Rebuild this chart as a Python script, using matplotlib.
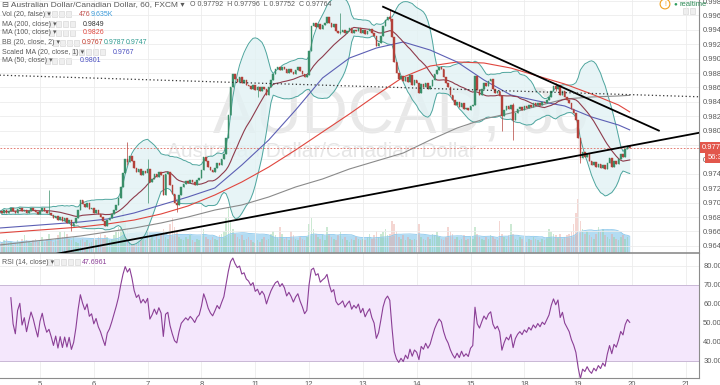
import numpy as np
import pandas as pd
import matplotlib
matplotlib.use("Agg")
import matplotlib.pyplot as plt
import matplotlib.transforms as mtransforms
from matplotlib.patches import Rectangle

plt.rcParams['font.family'] = ['Liberation Sans', 'DejaVu Sans']

# AUDCAD 60 min (FXCM) - hourly closes, one list per day
close_d4 = [0.9688, 0.9685, 0.9690, 0.9686, 0.9689, 0.9692, 0.9688, 0.9686, 0.9691,
            0.9693, 0.9688, 0.9690, 0.9686, 0.9689, 0.9692, 0.9690, 0.9687, 0.9684]
close_d5 = [0.9689, 0.9692, 0.9688, 0.9685, 0.9686, 0.9683, 0.9679, 0.9682, 0.9676,
            0.9680, 0.9674, 0.9678, 0.9672, 0.9676, 0.9668, 0.9671, 0.9678, 0.9690,
            0.9703, 0.9698, 0.9694, 0.9699, 0.9691, 0.9693]
close_d6 = [0.9686, 0.9690, 0.9684, 0.9680, 0.9674, 0.9668, 0.9676, 0.9679, 0.9684,
            0.9690, 0.9697, 0.9706, 0.9722, 0.9741, 0.9760, 0.9756, 0.9765, 0.9758,
            0.9748, 0.9742, 0.9746, 0.9739, 0.9744, 0.9741]
close_d7 = [0.9747, 0.9728, 0.9733, 0.9740, 0.9735, 0.9743, 0.9738, 0.9711, 0.9740,
            0.9743, 0.9725, 0.9712, 0.9700, 0.9696, 0.9710, 0.9722, 0.9726, 0.9730,
            0.9727, 0.9732, 0.9729, 0.9725, 0.9731, 0.9734]
close_d8 = [0.9745, 0.9764, 0.9758, 0.9750, 0.9745, 0.9742, 0.9748, 0.9755, 0.9752,
            0.9760, 0.9768, 0.9790, 0.9822, 0.9860, 0.9878, 0.9872, 0.9868, 0.9874,
            0.9866, 0.9870, 0.9864, 0.9862, 0.9858, 0.9864]
close_d11 = [0.9856, 0.9860, 0.9855, 0.9861, 0.9858, 0.9850, 0.9860, 0.9870, 0.9878,
             0.9885, 0.9888, 0.9884, 0.9889, 0.9886, 0.9880, 0.9885, 0.9882, 0.9878,
             0.9884, 0.9888, 0.9883, 0.9879, 0.9874, 0.9877]
close_d12 = [0.9910, 0.9945, 0.9950, 0.9944, 0.9948, 0.9941, 0.9946, 0.9950, 0.9958,
             0.9950, 0.9944, 0.9948, 0.9938, 0.9935, 0.9937, 0.9940, 0.9935, 0.9939,
             0.9942, 0.9936, 0.9940, 0.9938, 0.9942, 0.9936]
close_d13 = [0.9940, 0.9934, 0.9938, 0.9941, 0.9935, 0.9931, 0.9918, 0.9922, 0.9932,
             0.9945, 0.9954, 0.9958, 0.9955, 0.9930, 0.9895, 0.9880, 0.9872, 0.9876,
             0.9869, 0.9875, 0.9868, 0.9877, 0.9864, 0.9870]
close_d14 = [0.9866, 0.9852, 0.9865, 0.9860, 0.9866, 0.9858, 0.9862, 0.9870, 0.9878,
             0.9884, 0.9889, 0.9886, 0.9875, 0.9866, 0.9860, 0.9850, 0.9842, 0.9836,
             0.9840, 0.9833, 0.9838, 0.9830, 0.9832, 0.9828]
close_d15 = [0.9834, 0.9836, 0.9876, 0.9856, 0.9850, 0.9858, 0.9866, 0.9862, 0.9869,
             0.9872, 0.9858, 0.9852, 0.9855, 0.9848, 0.9820, 0.9828, 0.9834, 0.9830,
             0.9836, 0.9815, 0.9825, 0.9830, 0.9833, 0.9829]
close_d18 = [0.9834, 0.9831, 0.9836, 0.9833, 0.9838, 0.9835, 0.9839, 0.9836, 0.9840,
             0.9838, 0.9842, 0.9846, 0.9855, 0.9862, 0.9858, 0.9863, 0.9850, 0.9855,
             0.9846, 0.9842, 0.9838, 0.9830, 0.9824, 0.9815]
close_d19 = [0.9790, 0.9762, 0.9770, 0.9764, 0.9768, 0.9758, 0.9752, 0.9756, 0.9750,
             0.9754, 0.9748, 0.9752, 0.9746, 0.9755, 0.9762, 0.9750, 0.9758, 0.9754,
             0.9760, 0.9768, 0.9764, 0.9774, 0.97792, 0.97764]

# volume in thousands
vol_d4 = [7, 6, 8, 9, 6, 7, 5, 6, 8, 7, 9, 11, 8, 7, 6, 8, 9, 7]
vol_d5 = [8, 10, 7, 9, 12, 8, 7, 9, 11, 13, 10, 14, 12, 9, 8, 10, 7, 6, 8, 9, 7, 8, 6, 7]
vol_d6 = [9, 8, 10, 12, 9, 11, 10, 8, 9, 11, 13, 16, 22, 26, 20, 15, 12, 10, 9, 11, 8, 10, 9, 8]
vol_d7 = [14, 9, 10, 8, 11, 9, 12, 15, 10, 9, 18, 22, 16, 14, 10, 9, 8, 10, 9, 11, 8, 7, 9, 8]
vol_d8 = [12, 15, 10, 9, 8, 10, 9, 8, 11, 12, 14, 22, 28, 20, 15, 12, 10, 9, 11, 8, 9, 10, 8, 7]
vol_d11 = [6, 8, 7, 9, 10, 8, 9, 12, 14, 11, 10, 16, 12, 9, 10, 8, 14, 11, 9, 8, 10, 9, 8, 10]
vol_d12 = [18, 22, 15, 12, 10, 9, 11, 8, 16, 12, 10, 9, 8, 11, 13, 9, 10, 8, 7, 9, 8, 10, 9, 8]
vol_d13 = [9, 8, 10, 12, 9, 11, 14, 10, 12, 13, 15, 11, 12, 20, 18, 14, 10, 9, 11, 8, 10, 9, 8, 9]
vol_d14 = [8, 18, 10, 9, 8, 10, 9, 12, 11, 13, 10, 9, 8, 10, 16, 14, 12, 9, 10, 8, 9, 11, 8, 9]
vol_d15 = [10, 9, 16, 12, 10, 9, 8, 10, 9, 11, 10, 9, 8, 20, 12, 10, 9, 11, 18, 12, 9, 8, 10, 9]
vol_d18 = [8, 7, 9, 8, 10, 9, 8, 7, 9, 8, 10, 15, 13, 12, 11, 10, 12, 9, 10, 11, 12, 14, 18, 25]
vol_d19 = [34, 20, 15, 12, 14, 11, 10, 9, 12, 16, 13, 15, 11, 10, 9, 12, 10, 9, 8, 10, 11, 9, 10, 0.476]

# candles whose wick sticks out of the body
wick_bar = [22, 32, 57, 66, 79, 115, 152, 174, 224, 229, 248, 259, 281]
wick_high = [0.9718, 0.9676, 0.9784, 0.9760, 0.9702, 0.9862, 0.9963, 0.9967,
             0.9848, 0.9838, 0.9866, 0.9790, 0.97796]
wick_low = [0.9684, 0.9660, 0.9752, 0.9700, 0.9687, 0.9847, 0.9934, 0.9952,
            0.9800, 0.9787, 0.9855, 0.9755, 0.97752]

# long moving averages (need history before the window) read every 12 bars
ma_bar = [0, 12, 24, 36, 48, 60, 72, 84, 96, 108, 120, 132, 144, 156, 168,
          180, 192, 204, 216, 228, 240, 252, 264, 276, 281]
ma200 = [0.96411, 0.96453, 0.96494, 0.96536, 0.96592, 0.96647, 0.96717, 0.96800,
         0.96897, 0.96967, 0.97078, 0.97217, 0.97328, 0.97467, 0.97578, 0.97689,
         0.97869, 0.98036, 0.98161, 0.98244, 0.98342, 0.98439, 0.98467, 0.98481, 0.9849]
ma100 = [0.96578, 0.96606, 0.96633, 0.96661, 0.96703, 0.96758, 0.96842, 0.96953,
         0.97106, 0.97286, 0.97494, 0.97731, 0.97981, 0.98231, 0.98494, 0.98744,
         0.98897, 0.98953, 0.98939, 0.98869, 0.98758, 0.98647, 0.98508, 0.98356, 0.9826]
ma50 = [0.96647, 0.96675, 0.96703, 0.96731, 0.96772, 0.96856, 0.96967, 0.97078,
        0.97203, 0.97522, 0.97869, 0.98286, 0.98731, 0.99008, 0.99147, 0.99231,
        0.99119, 0.98953, 0.98703, 0.98494, 0.98411, 0.98342, 0.98189, 0.98078, 0.9801]

# drawn trend lines (bar, price)
trend_up = ([0, 312], [0.9614, 0.9797])
trend_down = ([171, 294], [0.9972, 0.9800])
trend_dot = ([0, 312], [0.9877, 0.9847])

day_labels = ['5', '6', '7', '8', '11', '12', '13', '14', '15', '18', '19', '20', '21']
day_pos = [18 + 24 * k for k in range(len(day_labels))]
price_ticks = np.round(np.arange(0.964, 0.9981, 0.002), 3)
rsi_ticks = [30, 40, 50, 60, 70, 80]

close = np.array(close_d4 + close_d5 + close_d6 + close_d7 + close_d8 + close_d11 +
                 close_d12 + close_d13 + close_d14 + close_d15 + close_d18 + close_d19)
vol = np.array(vol_d4 + vol_d5 + vol_d6 + vol_d7 + vol_d8 + vol_d11 +
               vol_d12 + vol_d13 + vol_d14 + vol_d15 + vol_d18 + vol_d19)
n = len(close)
idx = np.arange(n)
openp = np.r_[close[0], close[:-1]]
hi = np.maximum(openp, close)
lo = np.minimum(openp, close)
hi[wick_bar] = wick_high
lo[wick_bar] = wick_low

s = pd.Series(close)
ma20 = s.rolling(20, min_periods=1).mean()
sd = s.rolling(20, min_periods=1).std(ddof=0)
bb_up = ma20 + 2 * sd
bb_lo = ma20 - 2 * sd
d = s.diff()
ag = d.clip(lower=0).ewm(alpha=1 / 14, min_periods=5).mean()
al = (-d).clip(lower=0).ewm(alpha=1 / 14, min_periods=5).mean()
rsi = 100 - 100 / (1 + ag / al)
vol_ma = pd.Series(vol).rolling(20, min_periods=1).mean()

W, H = 720, 385
fig = plt.figure(figsize=(7.2, 3.85), dpi=100)
ax = fig.add_axes([0, 1 - 253 / H, 699 / W, 253 / H])
ax_rsi = fig.add_axes([0, 1 - 378 / H, 699 / W, 125 / H])
ax_vol = ax.twinx()
ax.set_zorder(2)
ax.patch.set_visible(False)
ax_vol.set_zorder(1)

grid_c = '#ececec'
axis_c = '#8c8c8c'
lab_c = '#5a5a5a'

# volume
up = close >= openp
vcol = np.where(up, '#8fcf9f', '#e7a49c')
ax_vol.fill_between(idx, 0, vol_ma, color='#b3dcf3', lw=0)
ax_vol.plot(idx, vol_ma, color='#8cc8ec', lw=0.6)
ax_vol.bar(idx, vol, width=0.7, color=vcol, alpha=0.45, lw=0)
ax_vol.set_ylim(0, 158)
ax_vol.axis('off')

# watermark
ax.text(213 / 699, 1 - 134 / 253, 'AUDCAD, 60', transform=ax.transAxes, fontsize=46,
        color='#e8e8e8', ha='left', va='baseline', zorder=0)
ax.text(167 / 699, 1 - 157 / 253, 'Australian Dollar/Canadian Dollar', transform=ax.transAxes,
        fontsize=15, color='#e6e6e6', ha='left', va='baseline', zorder=0)

# bollinger + moving averages
ax.fill_between(idx, bb_lo, bb_up, color='#e2f2f4', alpha=0.8, lw=0, zorder=1)
ax.plot(idx, bb_up, color='#4ea59e', lw=0.7, zorder=2)
ax.plot(idx, bb_lo, color='#4ea59e', lw=0.7, zorder=2)
ax.plot(ma_bar, ma200, color='#8a8a8a', lw=0.8, zorder=2)
ax.plot(ma_bar, ma100, color='#e0463e', lw=0.8, zorder=2)
ax.plot(ma_bar, ma50, color='#5c5fb4', lw=0.8, zorder=2)
ax.plot(idx, ma20, color='#8e3b4c', lw=0.8, zorder=2)

# candles
ccol = np.where(up, '#3b8f6a', '#b3413a')
ax.vlines(idx, lo, hi, colors=ccol, lw=0.5, zorder=3)
ax.bar(idx, close - openp, bottom=openp, width=0.7, color=ccol, edgecolor=ccol, lw=0.3, zorder=3)

# drawings
ax.plot(*trend_up, color='black', lw=1.3, zorder=4)
ax.plot(*trend_down, color='black', lw=1.3, zorder=4)
ax.plot(*trend_dot, color='#333333', lw=0.9, ls=(0, (1, 2)), zorder=4)
ax.axhline(close[-1], color='#e0685d', lw=0.6, ls=(0, (2, 2)), zorder=2)

ax.set_xlim(0.16, 311.9)
ax.set_ylim(0.9630, 0.99814)
ax.set_xticks(day_pos)
ax.set_yticks(price_ticks)
ax.set_yticklabels(['%.5f' % t for t in price_ticks])
ax.yaxis.tick_right()
ax.tick_params(axis='y', length=0, pad=3, labelsize=5.5, labelcolor=lab_c)
ax.tick_params(axis='x', length=0, labelbottom=False)
ax.grid(True, color=grid_c, lw=0.6)
ax.set_axisbelow(True)
for sp in ['top', 'left']:
    ax.spines[sp].set_visible(False)
ax.spines['right'].set_color(axis_c)
ax.spines['right'].set_linewidth(0.8)
ax.spines['bottom'].set_color(axis_c)
ax.spines['bottom'].set_linewidth(1.2)

# last price tags
tr = mtransforms.blended_transform_factory(ax.transAxes, ax.transData)
ax.text(1.004, close[-1], '%.5f' % close[-1], transform=tr, fontsize=5.5, color='white',
        va='center', ha='left', clip_on=False, zorder=6,
        bbox=dict(boxstyle='square,pad=0.25', fc='#e2574c', ec='none'))
ax.annotate('56:33', (1.012, close[-1]), xycoords=tr, xytext=(0, -7), textcoords='offset points',
            fontsize=5.5, color='white', va='center', ha='left', annotation_clip=False, zorder=6,
            bbox=dict(boxstyle='square,pad=0.25', fc='#e2574c', ec='none'))

# RSI panel
ax_rsi.axhspan(30, 70, color='#f4e7fc', lw=0)
ax_rsi.axhline(70, color='#c9b8d6', lw=0.7)
ax_rsi.axhline(30, color='#c9b8d6', lw=0.7)
ax_rsi.plot(idx, rsi, color='#8b3f96', lw=0.8)
ax_rsi.set_xlim(0.16, 311.9)
ax_rsi.set_ylim(21.05, 86.8)
ax_rsi.set_xticks(day_pos)
ax_rsi.set_xticklabels(day_labels)
ax_rsi.set_yticks(rsi_ticks)
ax_rsi.set_yticklabels(['%.4f' % t for t in rsi_ticks])
ax_rsi.yaxis.tick_right()
ax_rsi.tick_params(axis='y', length=0, pad=3, labelsize=5.5, labelcolor=lab_c)
ax_rsi.tick_params(axis='x', length=0, pad=2, labelsize=5.5, labelcolor=lab_c)
ax_rsi.grid(True, color=grid_c, lw=0.6)
ax_rsi.set_axisbelow(True)
for sp in ['top', 'left']:
    ax_rsi.spines[sp].set_visible(False)
for sp in ['right', 'bottom']:
    ax_rsi.spines[sp].set_color(axis_c)
    ax_rsi.spines[sp].set_linewidth(0.8)


# header / legend texts
def ftxt(x, y, txt, **kw):
    kw.setdefault('fontsize', 5)
    kw.setdefault('color', lab_c)
    fig.text(x / W, 1 - y / H, txt, va='center', ha='left', **kw)


def boxes(x0, y, k):
    for j in range(k):
        fig.add_artist(Rectangle(((x0 + j * 7) / W, 1 - (y + 2.7) / H), 5.4 / W, 5.4 / H,
                                 transform=fig.transFigure, fc='#efefef', ec='#d2d2d2', lw=0.4))


ftxt(2, 4.5, '\u229f Australian Dollar/Canadian Dollar, 60, FXCM \u25be', fontsize=6)
ftxt(190, 4.5, 'O 0.97792  H 0.97796  L 0.97752  C 0.97764', fontsize=5)
ftxt(2, 14, 'Vol (20, false) \u25be')
boxes(45, 14, 4)
ftxt(79, 14, '476', color='#c0504d')
ftxt(91, 14, '9.635K', color='#3a9ad9')
ftxt(2, 24, 'MA (200, close) \u25be')
boxes(49, 24, 4)
ftxt(83, 24, '0.9849', color='#333333')
ftxt(2, 33, 'MA (100, close) \u25be')
boxes(49, 33, 4)
ftxt(83, 33, '0.9826', color='#e0463e')
ftxt(2, 43, 'BB (20, close, 2) \u25be')
boxes(53, 43, 4)
ftxt(82, 43, '0.9767', color='#c0392b')
ftxt(104, 43, '0.9787', color='#2e9a8f')
ftxt(126, 43, '0.9747', color='#2e9a8f')
ftxt(2, 52, 'Scaled MA (20, close, 1) \u25be')
boxes(72, 52, 5)
ftxt(113, 52, '0.9767', color='#4a4fc0')
ftxt(2, 61, 'MA (50, close) \u25be')
boxes(45, 61, 4)
ftxt(80, 61, '0.9801', color='#4a4fc0')
ftxt(2, 262, 'RSI (14, close) \u25be')
boxes(47, 262, 5)
ftxt(82, 262, '47.6961', color='#8b3f96')

ftxt(664, 4, '!', fontsize=5, color='#f0a020',
     bbox=dict(boxstyle='circle,pad=0.2', fc='white', ec='#f0a020', lw=0.8))
ftxt(673, 4, '\u25cf', fontsize=4.5, color='#2e9e5e')
ftxt(679, 4, 'realtime', fontsize=5.5, color='#2e8b57')
boxes(683, 11, 2)

fig.savefig('out.png', dpi=100)
